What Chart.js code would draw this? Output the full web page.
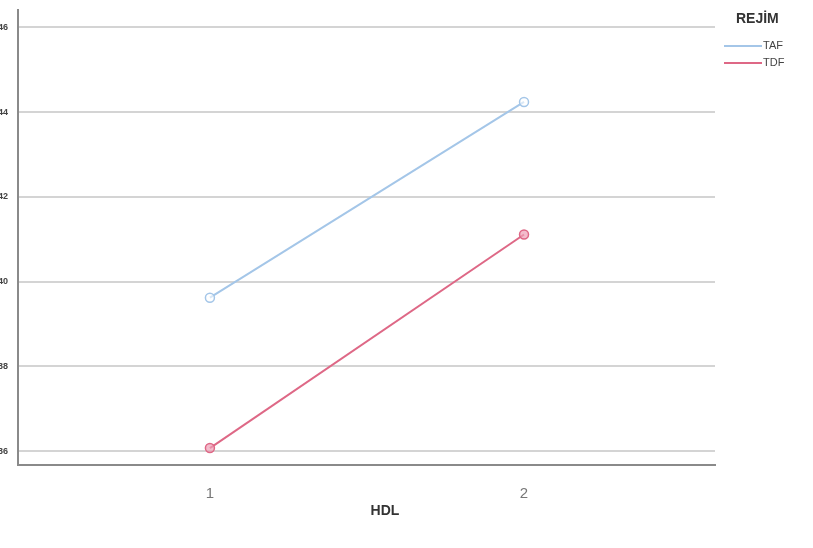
<!DOCTYPE html>
<html>
<head>
<meta charset="utf-8">
<script src="https://cdn.jsdelivr.net/npm/chart.js@4/dist/chart.umd.min.js"></script>
<style>
  html, body { margin: 0; padding: 0; background: #fff; overflow: hidden; }
  #wrap { position: absolute; left: -8px; top: 0; width: 821px; height: 548px; }
</style>
</head>
<body>
<div id="wrap"><canvas id="plot"></canvas></div>
<script>
// HDL groups (x) and mean values per regime
const groups = [1, 2];
const tafValues = [39.62, 44.24];
const tdfValues = [36.07, 41.11];
const yTicks = [36, 38, 40, 42, 44, 46];
const legendTitle = "REJİM";
const seriesNames = ["TAF", "TDF"];
const xTitle = "HDL";

const tafColor = "rgb(164, 198, 232)";
const tdfColor = "rgb(222, 104, 134)";

// legend + x title drawn by hand so they sit where the original has them
const extras = {
  id: "extras",
  afterDraw(chart) {
    const c = chart.ctx;
    const right = chart.chartArea.right;
    c.save();
    c.textBaseline = "middle";
    c.fillStyle = "#333";
    c.font = "bold 14px 'Liberation Sans', Arial, sans-serif";
    c.textAlign = "left";
    c.fillText(legendTitle, right + 21, 19);
    const cols = [tafColor, tdfColor];
    seriesNames.forEach((name, i) => {
      const y = 46 + i * 17;
      c.strokeStyle = cols[i];
      c.lineWidth = 2;
      c.beginPath();
      c.moveTo(right + 9, y);
      c.lineTo(right + 47, y);
      c.stroke();
      c.fillStyle = "#444";
      c.font = "11px 'Liberation Sans', Arial, sans-serif";
      c.fillText(name, right + 48, y);
    });
    c.fillStyle = "#333";
    c.font = "bold 14px 'Liberation Sans', Arial, sans-serif";
    c.textAlign = "center";
    c.fillText(xTitle, 393, 511);
    c.restore();
  }
};

new Chart(document.getElementById("plot"), {
  type: "line",
  data: {
    datasets: [
      {
        label: seriesNames[0],
        data: groups.map((g, i) => ({ x: g, y: tafValues[i] })),
        borderColor: tafColor,
        backgroundColor: "rgba(255,255,255,0.6)",
        borderWidth: 2,
        pointRadius: 4.5,
        pointBorderWidth: 1.5,
      },
      {
        label: seriesNames[1],
        data: groups.map((g, i) => ({ x: g, y: tdfValues[i] })),
        borderColor: tdfColor,
        backgroundColor: "rgba(238,160,182,0.7)",
        borderWidth: 2,
        pointRadius: 4.5,
        pointBorderWidth: 1.5,
      },
    ],
  },
  options: {
    responsive: true,
    maintainAspectRatio: false,
    animation: false,
    layout: { padding: { top: 0, right: 98, left: 0, bottom: 0 } },
    plugins: {
      legend: { display: false },
      tooltip: { enabled: false },
    },
    scales: {
      x: {
        type: "linear",
        min: 0.389,
        max: 2.608,
        afterBuildTicks: (scale) => {
          scale.ticks = groups.map((v) => ({ value: v }));
        },
        afterFit: (scale) => {
          scale.height = 83;
        },
        ticks: {
          color: "#777",
          padding: 20,
          font: { size: 15, family: "'Liberation Sans', Arial, sans-serif" },
        },
        grid: { display: false, drawTicks: false },
        border: { color: "#8a8a8a", width: 2 },
      },
      y: {
        min: 35.67,
        max: 46.4,
        afterBuildTicks: (scale) => {
          scale.ticks = yTicks.map((v) => ({ value: v }));
        },
        afterFit: (scale) => {
          scale.width = 26;
        },
        ticks: {
          color: "#444",
          padding: 10,
          font: { size: 9, weight: "bold", lineHeight: 0.1, family: "'Liberation Sans', Arial, sans-serif" },
        },
        grid: { color: "#d4d4d4", lineWidth: 2, drawTicks: false },
        border: { color: "#8a8a8a", width: 2 },
      },
    },
  },
  plugins: [extras],
});
</script>
</body>
</html>
